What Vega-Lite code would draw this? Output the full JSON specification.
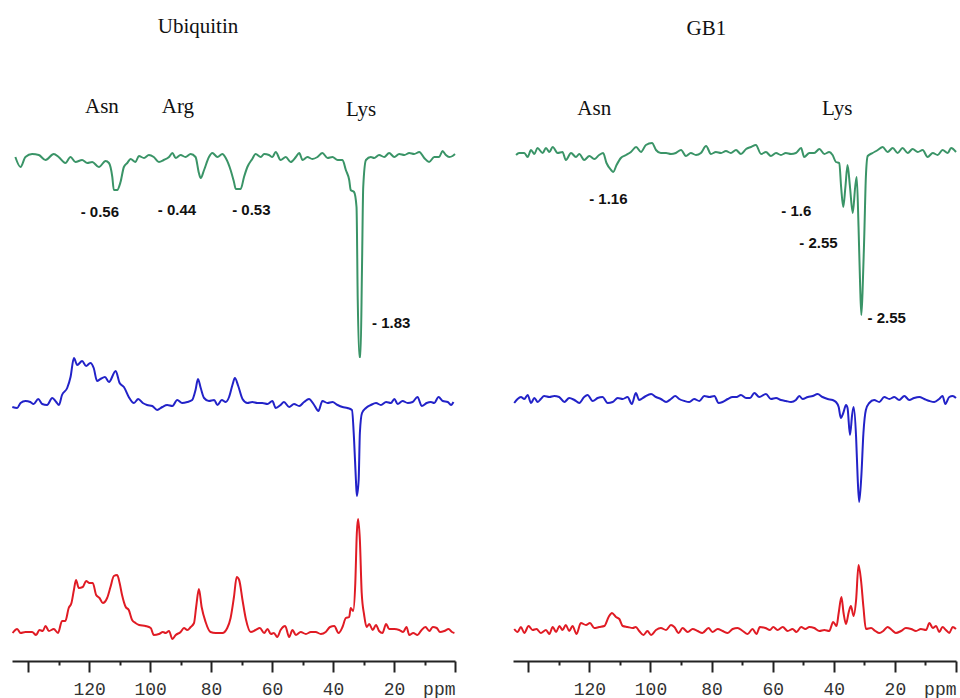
{
"$schema": "https://vega.github.io/schema/vega-lite/v6.json",
"background": "white",
"padding": {"left": 8, "top": 0, "right": 0, "bottom": 0},
"bounds": "flush",
"spacing": 58,
"config": {
 "view": {"stroke": null},
 "axis": {
  "values": [140,130,120,110,100,90,80,70,60,50,40,30,20,10,0],
  "labelExpr": "datum.value == 0 ? 'ppm' : (datum.value % 20 == 0 && datum.value < 140 ? datum.label : '')",
  "labelAlign": {"condition": {"test": "datum.value == 0", "value": "right"}, "value": "center"},
  "tickSize": {"condition": {"test": "datum.value % 20 == 0", "value": 11}, "value": 4},
  "title": null, "grid": false,
  "domainColor": "#222", "domainWidth": 2, "tickColor": "#222", "tickWidth": 2,
  "labelFont": "Liberation Mono", "labelFontSize": 18, "labelColor": "#333",
  "labelPadding": 8, "labelBound": false, "labelOverlap": false, "labelFlush": false
 }
},
"datasets": {
 "ubq": [
  {"s":"upper","x":144.2,"y":50.4},{"s":"upper","x":142.5,"y":49.4},{"s":"upper","x":140.9,"y":50.4},{"s":"upper","x":138.7,"y":50.7},{"s":"upper","x":136.5,"y":50.6},{"s":"upper","x":134.3,"y":50.1},{"s":"upper","x":131.6,"y":50.7},{"s":"upper","x":130.0,"y":50.4},{"s":"upper","x":127.8,"y":49.8},{"s":"upper","x":126.1,"y":50.4},{"s":"upper","x":124.5,"y":49.9},{"s":"upper","x":122.3,"y":50.1},{"s":"upper","x":120.6,"y":49.8},{"s":"upper","x":119.0,"y":49.9},{"s":"upper","x":116.8,"y":49.4},{"s":"upper","x":114.6,"y":50.0},{"s":"upper","x":113.5,"y":49.8},{"s":"upper","x":112.4,"y":48.4},{"s":"upper","x":111.9,"y":47.1},{"s":"upper","x":110.8,"y":47.1},{"s":"upper","x":109.7,"y":47.9},{"s":"upper","x":108.6,"y":49.4},{"s":"upper","x":107.5,"y":49.8},{"s":"upper","x":106.4,"y":50.2},{"s":"upper","x":104.8,"y":49.9},{"s":"upper","x":103.7,"y":50.5},{"s":"upper","x":102.0,"y":50.3},{"s":"upper","x":100.4,"y":50.6},{"s":"upper","x":98.8,"y":50.4},{"s":"upper","x":97.1,"y":49.9},{"s":"upper","x":95.5,"y":50.1},{"s":"upper","x":93.8,"y":50.4},{"s":"upper","x":92.7,"y":50.8},{"s":"upper","x":91.6,"y":50.3},{"s":"upper","x":90.0,"y":50.6},{"s":"upper","x":88.4,"y":50.4},{"s":"upper","x":86.7,"y":50.7},{"s":"upper","x":85.1,"y":50.4},{"s":"upper","x":84.0,"y":48.8},{"s":"upper","x":83.4,"y":48.3},{"s":"upper","x":82.3,"y":49.1},{"s":"upper","x":80.7,"y":50.4},{"s":"upper","x":79.6,"y":50.8},{"s":"upper","x":77.9,"y":50.4},{"s":"upper","x":76.3,"y":50.7},{"s":"upper","x":75.2,"y":50.3},{"s":"upper","x":73.6,"y":49.1},{"s":"upper","x":72.5,"y":47.9},{"s":"upper","x":71.9,"y":47.2},{"s":"upper","x":70.3,"y":47.2},{"s":"upper","x":69.2,"y":48.4},{"s":"upper","x":68.1,"y":49.4},{"s":"upper","x":66.5,"y":50.2},{"s":"upper","x":65.4,"y":50.7},{"s":"upper","x":63.7,"y":50.4},{"s":"upper","x":62.6,"y":50.7},{"s":"upper","x":61.0,"y":50.6},{"s":"upper","x":59.9,"y":50.4},{"s":"upper","x":58.8,"y":50.9},{"s":"upper","x":57.2,"y":50.1},{"s":"upper","x":55.5,"y":50.4},{"s":"upper","x":53.9,"y":49.9},{"s":"upper","x":52.2,"y":50.4},{"s":"upper","x":51.1,"y":50.8},{"s":"upper","x":50.0,"y":50.1},{"s":"upper","x":48.4,"y":50.4},{"s":"upper","x":46.8,"y":50.2},{"s":"upper","x":45.1,"y":50.4},{"s":"upper","x":43.5,"y":50.8},{"s":"upper","x":41.8,"y":50.3},{"s":"upper","x":40.2,"y":50.4},{"s":"upper","x":38.5,"y":50.1},{"s":"upper","x":36.9,"y":50.1},{"s":"upper","x":35.8,"y":49.1},{"s":"upper","x":34.7,"y":48.1},{"s":"upper","x":34.2,"y":47.1},{"s":"upper","x":33.1,"y":46.9},{"s":"upper","x":32.3,"y":45.4},{"s":"upper","x":31.9,"y":36.1},{"s":"upper","x":31.4,"y":30.4},{"s":"upper","x":31.0,"y":30.4},{"s":"upper","x":30.5,"y":39.4},{"s":"upper","x":30.1,"y":47.4},{"s":"upper","x":29.2,"y":50.1},{"s":"upper","x":27.6,"y":50.4},{"s":"upper","x":26.5,"y":50.3},{"s":"upper","x":24.9,"y":50.6},{"s":"upper","x":23.2,"y":50.4},{"s":"upper","x":21.6,"y":50.8},{"s":"upper","x":19.9,"y":50.4},{"s":"upper","x":18.3,"y":50.7},{"s":"upper","x":16.6,"y":50.6},{"s":"upper","x":15.0,"y":50.8},{"s":"upper","x":13.4,"y":50.7},{"s":"upper","x":11.7,"y":50.9},{"s":"upper","x":10.1,"y":50.3},{"s":"upper","x":8.5,"y":49.9},{"s":"upper","x":6.8,"y":50.4},{"s":"upper","x":5.2,"y":50.4},{"s":"upper","x":4.1,"y":51.0},{"s":"upper","x":3.0,"y":50.6},{"s":"upper","x":1.9,"y":50.4},{"s":"upper","x":0.8,"y":50.5},{"s":"upper","x":0.0,"y":50.7},
  {"s":"middle","x":145.2,"y":25.4},{"s":"middle","x":143.6,"y":25.3},{"s":"middle","x":142.5,"y":25.8},{"s":"middle","x":140.9,"y":26.0},{"s":"middle","x":139.3,"y":25.9},{"s":"middle","x":138.2,"y":25.7},{"s":"middle","x":136.7,"y":26.2},{"s":"middle","x":135.4,"y":25.7},{"s":"middle","x":133.8,"y":25.6},{"s":"middle","x":132.1,"y":26.3},{"s":"middle","x":130.8,"y":25.9},{"s":"middle","x":129.9,"y":25.6},{"s":"middle","x":128.9,"y":26.6},{"s":"middle","x":127.2,"y":27.3},{"s":"middle","x":126.1,"y":28.4},{"s":"middle","x":125.0,"y":30.3},{"s":"middle","x":123.9,"y":29.6},{"s":"middle","x":122.3,"y":30.0},{"s":"middle","x":121.0,"y":29.5},{"s":"middle","x":119.6,"y":29.8},{"s":"middle","x":118.5,"y":29.3},{"s":"middle","x":117.4,"y":28.0},{"s":"middle","x":116.3,"y":28.2},{"s":"middle","x":114.8,"y":28.4},{"s":"middle","x":113.5,"y":27.9},{"s":"middle","x":111.3,"y":29.0},{"s":"middle","x":110.0,"y":27.8},{"s":"middle","x":108.6,"y":27.4},{"s":"middle","x":107.0,"y":26.4},{"s":"middle","x":105.3,"y":25.8},{"s":"middle","x":103.9,"y":26.2},{"s":"middle","x":102.4,"y":25.8},{"s":"middle","x":101.0,"y":25.6},{"s":"middle","x":99.3,"y":25.5},{"s":"middle","x":97.7,"y":25.1},{"s":"middle","x":96.0,"y":25.4},{"s":"middle","x":94.4,"y":25.6},{"s":"middle","x":92.7,"y":25.5},{"s":"middle","x":91.1,"y":26.1},{"s":"middle","x":89.5,"y":25.8},{"s":"middle","x":87.8,"y":25.9},{"s":"middle","x":86.2,"y":26.1},{"s":"middle","x":85.1,"y":27.1},{"s":"middle","x":84.3,"y":28.2},{"s":"middle","x":83.4,"y":27.3},{"s":"middle","x":82.3,"y":26.3},{"s":"middle","x":80.7,"y":26.0},{"s":"middle","x":79.0,"y":26.1},{"s":"middle","x":77.9,"y":25.6},{"s":"middle","x":76.5,"y":26.1},{"s":"middle","x":75.2,"y":25.9},{"s":"middle","x":74.1,"y":26.4},{"s":"middle","x":73.0,"y":27.6},{"s":"middle","x":72.2,"y":28.3},{"s":"middle","x":71.1,"y":27.5},{"s":"middle","x":69.7,"y":26.2},{"s":"middle","x":68.1,"y":25.8},{"s":"middle","x":66.5,"y":25.9},{"s":"middle","x":64.8,"y":25.8},{"s":"middle","x":63.2,"y":25.8},{"s":"middle","x":61.5,"y":25.7},{"s":"middle","x":59.9,"y":26.0},{"s":"middle","x":58.8,"y":25.3},{"s":"middle","x":57.2,"y":25.6},{"s":"middle","x":56.1,"y":25.9},{"s":"middle","x":54.4,"y":25.4},{"s":"middle","x":52.8,"y":25.7},{"s":"middle","x":51.1,"y":25.5},{"s":"middle","x":49.5,"y":25.9},{"s":"middle","x":47.9,"y":26.2},{"s":"middle","x":46.2,"y":25.6},{"s":"middle","x":44.8,"y":25.0},{"s":"middle","x":43.5,"y":26.0},{"s":"middle","x":41.8,"y":25.8},{"s":"middle","x":40.2,"y":25.9},{"s":"middle","x":38.5,"y":25.6},{"s":"middle","x":36.9,"y":25.4},{"s":"middle","x":35.3,"y":25.3},{"s":"middle","x":33.8,"y":25.1},{"s":"middle","x":33.1,"y":22.1},{"s":"middle","x":32.5,"y":18.1},{"s":"middle","x":32.2,"y":16.5},{"s":"middle","x":31.6,"y":18.1},{"s":"middle","x":31.2,"y":22.8},{"s":"middle","x":30.5,"y":24.8},{"s":"middle","x":29.2,"y":25.3},{"s":"middle","x":27.6,"y":25.6},{"s":"middle","x":25.9,"y":25.8},{"s":"middle","x":24.3,"y":25.6},{"s":"middle","x":22.6,"y":25.9},{"s":"middle","x":21.0,"y":25.8},{"s":"middle","x":19.9,"y":26.2},{"s":"middle","x":18.8,"y":25.7},{"s":"middle","x":17.2,"y":26.0},{"s":"middle","x":15.5,"y":25.8},{"s":"middle","x":13.9,"y":25.9},{"s":"middle","x":12.3,"y":26.4},{"s":"middle","x":10.9,"y":25.5},{"s":"middle","x":9.3,"y":25.8},{"s":"middle","x":7.9,"y":25.9},{"s":"middle","x":6.8,"y":25.8},{"s":"middle","x":5.4,"y":26.4},{"s":"middle","x":4.0,"y":26.0},{"s":"middle","x":2.4,"y":25.9},{"s":"middle","x":1.3,"y":25.6},{"s":"middle","x":0.5,"y":25.9},
  {"s":"lower","x":145.1,"y":2.8},{"s":"lower","x":143.6,"y":3.2},{"s":"lower","x":142.5,"y":2.8},{"s":"lower","x":140.9,"y":2.9},{"s":"lower","x":138.7,"y":2.9},{"s":"lower","x":137.4,"y":2.6},{"s":"lower","x":136.3,"y":3.1},{"s":"lower","x":135.2,"y":3.0},{"s":"lower","x":134.3,"y":3.5},{"s":"lower","x":133.2,"y":3.0},{"s":"lower","x":131.6,"y":3.2},{"s":"lower","x":130.2,"y":2.8},{"s":"lower","x":128.9,"y":4.0},{"s":"lower","x":127.8,"y":4.0},{"s":"lower","x":126.7,"y":5.3},{"s":"lower","x":125.8,"y":5.8},{"s":"lower","x":125.0,"y":7.1},{"s":"lower","x":124.3,"y":8.1},{"s":"lower","x":123.4,"y":7.3},{"s":"lower","x":122.1,"y":7.4},{"s":"lower","x":121.0,"y":8.0},{"s":"lower","x":119.9,"y":7.8},{"s":"lower","x":118.8,"y":7.8},{"s":"lower","x":117.7,"y":6.6},{"s":"lower","x":116.6,"y":6.3},{"s":"lower","x":115.5,"y":5.8},{"s":"lower","x":114.1,"y":6.3},{"s":"lower","x":113.0,"y":7.4},{"s":"lower","x":111.9,"y":8.5},{"s":"lower","x":110.8,"y":8.6},{"s":"lower","x":110.0,"y":7.8},{"s":"lower","x":109.2,"y":6.6},{"s":"lower","x":108.0,"y":5.4},{"s":"lower","x":107.0,"y":5.1},{"s":"lower","x":105.9,"y":4.1},{"s":"lower","x":104.8,"y":3.8},{"s":"lower","x":103.6,"y":3.6},{"s":"lower","x":101.5,"y":3.5},{"s":"lower","x":99.8,"y":3.3},{"s":"lower","x":98.8,"y":2.6},{"s":"lower","x":97.1,"y":2.7},{"s":"lower","x":95.8,"y":2.9},{"s":"lower","x":94.9,"y":2.8},{"s":"lower","x":93.8,"y":3.0},{"s":"lower","x":92.7,"y":2.2},{"s":"lower","x":91.6,"y":2.6},{"s":"lower","x":90.0,"y":2.9},{"s":"lower","x":88.9,"y":3.3},{"s":"lower","x":87.8,"y":3.1},{"s":"lower","x":86.7,"y":3.4},{"s":"lower","x":85.6,"y":3.8},{"s":"lower","x":84.9,"y":5.4},{"s":"lower","x":84.0,"y":7.2},{"s":"lower","x":83.1,"y":5.4},{"s":"lower","x":81.8,"y":3.9},{"s":"lower","x":80.2,"y":2.9},{"s":"lower","x":78.5,"y":2.8},{"s":"lower","x":76.3,"y":2.8},{"s":"lower","x":74.7,"y":3.3},{"s":"lower","x":73.6,"y":4.3},{"s":"lower","x":72.5,"y":6.4},{"s":"lower","x":71.6,"y":8.4},{"s":"lower","x":70.8,"y":8.1},{"s":"lower","x":69.7,"y":6.1},{"s":"lower","x":68.6,"y":4.2},{"s":"lower","x":67.0,"y":2.9},{"s":"lower","x":65.4,"y":3.1},{"s":"lower","x":64.0,"y":3.3},{"s":"lower","x":62.6,"y":2.8},{"s":"lower","x":61.5,"y":3.2},{"s":"lower","x":60.4,"y":2.7},{"s":"lower","x":59.4,"y":2.8},{"s":"lower","x":58.3,"y":2.4},{"s":"lower","x":57.2,"y":3.1},{"s":"lower","x":55.7,"y":3.5},{"s":"lower","x":54.4,"y":2.4},{"s":"lower","x":53.3,"y":3.1},{"s":"lower","x":52.2,"y":2.6},{"s":"lower","x":50.6,"y":2.9},{"s":"lower","x":48.9,"y":2.7},{"s":"lower","x":47.3,"y":2.9},{"s":"lower","x":45.7,"y":2.9},{"s":"lower","x":44.0,"y":2.7},{"s":"lower","x":42.4,"y":2.9},{"s":"lower","x":41.0,"y":3.4},{"s":"lower","x":39.6,"y":3.5},{"s":"lower","x":38.2,"y":2.8},{"s":"lower","x":36.9,"y":3.4},{"s":"lower","x":35.8,"y":4.3},{"s":"lower","x":34.7,"y":4.4},{"s":"lower","x":34.2,"y":5.3},{"s":"lower","x":33.4,"y":5.0},{"s":"lower","x":32.7,"y":7.8},{"s":"lower","x":32.2,"y":12.8},{"s":"lower","x":31.8,"y":14.2},{"s":"lower","x":31.2,"y":12.1},{"s":"lower","x":30.6,"y":6.8},{"s":"lower","x":29.8,"y":4.6},{"s":"lower","x":29.0,"y":3.4},{"s":"lower","x":28.1,"y":3.7},{"s":"lower","x":27.0,"y":3.1},{"s":"lower","x":25.9,"y":3.6},{"s":"lower","x":24.9,"y":3.0},{"s":"lower","x":23.8,"y":2.8},{"s":"lower","x":22.6,"y":3.7},{"s":"lower","x":21.6,"y":3.2},{"s":"lower","x":19.9,"y":3.2},{"s":"lower","x":18.3,"y":3.1},{"s":"lower","x":17.0,"y":2.9},{"s":"lower","x":15.9,"y":3.4},{"s":"lower","x":15.0,"y":2.6},{"s":"lower","x":13.7,"y":2.8},{"s":"lower","x":12.3,"y":2.6},{"s":"lower","x":11.2,"y":3.0},{"s":"lower","x":9.7,"y":3.4},{"s":"lower","x":8.4,"y":3.0},{"s":"lower","x":7.3,"y":3.4},{"s":"lower","x":6.0,"y":3.3},{"s":"lower","x":4.9,"y":2.9},{"s":"lower","x":3.5,"y":3.0},{"s":"lower","x":2.1,"y":3.2},{"s":"lower","x":1.0,"y":2.9},{"s":"lower","x":0.2,"y":2.8}
 ],
 "gb1": [
  {"s":"upper","x":144.0,"y":50.6},{"s":"upper","x":143.0,"y":50.8},{"s":"upper","x":141.3,"y":50.8},{"s":"upper","x":140.2,"y":50.4},{"s":"upper","x":139.1,"y":51.1},{"s":"upper","x":138.0,"y":50.7},{"s":"upper","x":137.0,"y":51.3},{"s":"upper","x":135.3,"y":50.8},{"s":"upper","x":134.2,"y":51.3},{"s":"upper","x":133.1,"y":50.9},{"s":"upper","x":132.0,"y":51.4},{"s":"upper","x":130.4,"y":50.8},{"s":"upper","x":128.8,"y":50.9},{"s":"upper","x":127.7,"y":50.1},{"s":"upper","x":126.0,"y":50.8},{"s":"upper","x":124.4,"y":50.4},{"s":"upper","x":123.3,"y":50.7},{"s":"upper","x":121.7,"y":50.1},{"s":"upper","x":120.0,"y":50.5},{"s":"upper","x":118.4,"y":50.2},{"s":"upper","x":116.8,"y":50.6},{"s":"upper","x":115.5,"y":50.8},{"s":"upper","x":114.4,"y":49.8},{"s":"upper","x":112.9,"y":49.1},{"s":"upper","x":112.2,"y":48.9},{"s":"upper","x":111.1,"y":49.6},{"s":"upper","x":109.7,"y":50.3},{"s":"upper","x":108.0,"y":50.6},{"s":"upper","x":106.4,"y":50.9},{"s":"upper","x":104.7,"y":51.4},{"s":"upper","x":103.1,"y":50.9},{"s":"upper","x":101.5,"y":51.6},{"s":"upper","x":99.5,"y":51.8},{"s":"upper","x":98.2,"y":51.1},{"s":"upper","x":96.6,"y":50.8},{"s":"upper","x":94.9,"y":50.8},{"s":"upper","x":93.3,"y":50.7},{"s":"upper","x":91.7,"y":50.8},{"s":"upper","x":90.0,"y":51.1},{"s":"upper","x":88.4,"y":50.5},{"s":"upper","x":86.8,"y":50.8},{"s":"upper","x":85.1,"y":50.6},{"s":"upper","x":83.5,"y":50.8},{"s":"upper","x":81.8,"y":51.5},{"s":"upper","x":80.2,"y":50.7},{"s":"upper","x":78.6,"y":50.9},{"s":"upper","x":76.9,"y":50.8},{"s":"upper","x":75.3,"y":51.0},{"s":"upper","x":73.7,"y":50.8},{"s":"upper","x":72.0,"y":51.1},{"s":"upper","x":70.4,"y":50.7},{"s":"upper","x":68.7,"y":51.2},{"s":"upper","x":67.1,"y":51.4},{"s":"upper","x":65.5,"y":51.6},{"s":"upper","x":63.8,"y":50.7},{"s":"upper","x":62.2,"y":50.9},{"s":"upper","x":60.6,"y":50.5},{"s":"upper","x":58.9,"y":50.8},{"s":"upper","x":57.3,"y":50.6},{"s":"upper","x":55.7,"y":50.8},{"s":"upper","x":54.0,"y":50.7},{"s":"upper","x":52.4,"y":50.8},{"s":"upper","x":50.7,"y":51.3},{"s":"upper","x":49.7,"y":50.4},{"s":"upper","x":48.0,"y":50.8},{"s":"upper","x":46.4,"y":50.8},{"s":"upper","x":44.7,"y":51.2},{"s":"upper","x":43.1,"y":50.7},{"s":"upper","x":41.5,"y":50.9},{"s":"upper","x":40.4,"y":50.6},{"s":"upper","x":39.3,"y":49.9},{"s":"upper","x":38.2,"y":49.8},{"s":"upper","x":37.6,"y":47.4},{"s":"upper","x":36.9,"y":45.4},{"s":"upper","x":36.2,"y":47.4},{"s":"upper","x":35.5,"y":49.6},{"s":"upper","x":34.7,"y":47.4},{"s":"upper","x":33.8,"y":44.8},{"s":"upper","x":33.0,"y":47.4},{"s":"upper","x":32.5,"y":48.4},{"s":"upper","x":31.9,"y":43.4},{"s":"upper","x":31.4,"y":37.8},{"s":"upper","x":31.0,"y":34.6},{"s":"upper","x":30.6,"y":36.8},{"s":"upper","x":30.0,"y":42.8},{"s":"upper","x":29.5,"y":48.4},{"s":"upper","x":28.9,"y":50.5},{"s":"upper","x":27.3,"y":50.8},{"s":"upper","x":25.6,"y":51.1},{"s":"upper","x":24.0,"y":51.4},{"s":"upper","x":22.4,"y":50.9},{"s":"upper","x":20.7,"y":51.3},{"s":"upper","x":19.1,"y":50.8},{"s":"upper","x":17.5,"y":51.3},{"s":"upper","x":15.8,"y":50.8},{"s":"upper","x":14.2,"y":51.2},{"s":"upper","x":12.5,"y":50.9},{"s":"upper","x":10.9,"y":51.1},{"s":"upper","x":9.3,"y":50.4},{"s":"upper","x":7.6,"y":50.8},{"s":"upper","x":6.0,"y":50.6},{"s":"upper","x":4.4,"y":51.1},{"s":"upper","x":2.7,"y":50.8},{"s":"upper","x":1.6,"y":51.3},{"s":"upper","x":0.0,"y":50.9},
  {"s":"middle","x":144.6,"y":25.8},{"s":"middle","x":143.5,"y":26.2},{"s":"middle","x":142.4,"y":26.4},{"s":"middle","x":141.3,"y":26.2},{"s":"middle","x":140.2,"y":26.6},{"s":"middle","x":139.1,"y":25.8},{"s":"middle","x":138.0,"y":26.3},{"s":"middle","x":136.9,"y":25.9},{"s":"middle","x":135.9,"y":26.2},{"s":"middle","x":134.8,"y":26.5},{"s":"middle","x":133.1,"y":26.4},{"s":"middle","x":131.5,"y":26.5},{"s":"middle","x":129.9,"y":26.4},{"s":"middle","x":128.2,"y":25.9},{"s":"middle","x":126.6,"y":26.3},{"s":"middle","x":124.9,"y":26.1},{"s":"middle","x":123.3,"y":25.8},{"s":"middle","x":121.7,"y":26.4},{"s":"middle","x":120.6,"y":26.6},{"s":"middle","x":118.9,"y":26.0},{"s":"middle","x":117.3,"y":26.3},{"s":"middle","x":115.7,"y":26.4},{"s":"middle","x":114.0,"y":25.8},{"s":"middle","x":112.4,"y":25.9},{"s":"middle","x":110.7,"y":26.3},{"s":"middle","x":109.1,"y":26.2},{"s":"middle","x":107.5,"y":26.4},{"s":"middle","x":106.1,"y":25.7},{"s":"middle","x":104.8,"y":26.8},{"s":"middle","x":103.7,"y":26.1},{"s":"middle","x":102.0,"y":26.4},{"s":"middle","x":99.8,"y":26.7},{"s":"middle","x":98.2,"y":26.4},{"s":"middle","x":96.6,"y":26.2},{"s":"middle","x":94.9,"y":25.9},{"s":"middle","x":93.3,"y":26.2},{"s":"middle","x":91.9,"y":26.5},{"s":"middle","x":90.6,"y":26.2},{"s":"middle","x":88.9,"y":26.0},{"s":"middle","x":87.3,"y":25.9},{"s":"middle","x":85.7,"y":26.2},{"s":"middle","x":84.0,"y":26.0},{"s":"middle","x":82.4,"y":26.5},{"s":"middle","x":80.7,"y":26.4},{"s":"middle","x":79.1,"y":26.5},{"s":"middle","x":77.7,"y":25.8},{"s":"middle","x":76.4,"y":25.9},{"s":"middle","x":74.7,"y":26.2},{"s":"middle","x":73.1,"y":26.4},{"s":"middle","x":71.8,"y":26.4},{"s":"middle","x":70.4,"y":26.6},{"s":"middle","x":68.7,"y":26.3},{"s":"middle","x":67.4,"y":26.3},{"s":"middle","x":66.0,"y":26.8},{"s":"middle","x":64.4,"y":26.4},{"s":"middle","x":62.2,"y":26.7},{"s":"middle","x":60.6,"y":26.2},{"s":"middle","x":58.9,"y":26.3},{"s":"middle","x":57.3,"y":26.1},{"s":"middle","x":55.7,"y":26.0},{"s":"middle","x":54.0,"y":25.9},{"s":"middle","x":52.4,"y":26.1},{"s":"middle","x":51.3,"y":26.5},{"s":"middle","x":50.2,"y":26.2},{"s":"middle","x":48.5,"y":26.4},{"s":"middle","x":46.9,"y":26.5},{"s":"middle","x":45.3,"y":26.7},{"s":"middle","x":43.7,"y":26.4},{"s":"middle","x":42.0,"y":26.2},{"s":"middle","x":40.4,"y":26.1},{"s":"middle","x":39.3,"y":25.9},{"s":"middle","x":38.4,"y":25.4},{"s":"middle","x":37.7,"y":24.3},{"s":"middle","x":36.9,"y":24.8},{"s":"middle","x":36.0,"y":25.6},{"s":"middle","x":35.5,"y":25.3},{"s":"middle","x":34.7,"y":22.6},{"s":"middle","x":34.0,"y":24.6},{"s":"middle","x":33.5,"y":25.4},{"s":"middle","x":32.7,"y":22.4},{"s":"middle","x":32.2,"y":18.4},{"s":"middle","x":31.7,"y":15.9},{"s":"middle","x":31.0,"y":18.4},{"s":"middle","x":30.3,"y":22.8},{"s":"middle","x":29.5,"y":25.1},{"s":"middle","x":28.4,"y":25.8},{"s":"middle","x":26.8,"y":26.1},{"s":"middle","x":25.1,"y":25.9},{"s":"middle","x":23.5,"y":26.4},{"s":"middle","x":21.8,"y":26.2},{"s":"middle","x":20.2,"y":26.4},{"s":"middle","x":18.6,"y":26.1},{"s":"middle","x":16.9,"y":26.5},{"s":"middle","x":15.3,"y":26.1},{"s":"middle","x":13.7,"y":26.3},{"s":"middle","x":12.0,"y":26.4},{"s":"middle","x":10.4,"y":26.2},{"s":"middle","x":8.7,"y":26.0},{"s":"middle","x":7.1,"y":25.9},{"s":"middle","x":5.5,"y":26.2},{"s":"middle","x":4.4,"y":26.5},{"s":"middle","x":3.5,"y":25.7},{"s":"middle","x":2.2,"y":26.4},{"s":"middle","x":1.1,"y":26.5},{"s":"middle","x":0.0,"y":26.3},
  {"s":"lower","x":144.6,"y":3.2},{"s":"lower","x":143.5,"y":2.9},{"s":"lower","x":142.4,"y":3.4},{"s":"lower","x":141.3,"y":2.8},{"s":"lower","x":139.9,"y":3.5},{"s":"lower","x":138.6,"y":3.1},{"s":"lower","x":137.3,"y":3.2},{"s":"lower","x":135.9,"y":2.8},{"s":"lower","x":134.2,"y":3.1},{"s":"lower","x":133.1,"y":2.7},{"s":"lower","x":132.0,"y":3.4},{"s":"lower","x":130.9,"y":2.9},{"s":"lower","x":129.8,"y":3.5},{"s":"lower","x":128.8,"y":3.1},{"s":"lower","x":127.7,"y":3.6},{"s":"lower","x":126.6,"y":3.0},{"s":"lower","x":125.5,"y":3.5},{"s":"lower","x":124.2,"y":2.7},{"s":"lower","x":122.8,"y":3.8},{"s":"lower","x":121.1,"y":3.6},{"s":"lower","x":119.8,"y":3.8},{"s":"lower","x":118.4,"y":3.3},{"s":"lower","x":116.8,"y":3.4},{"s":"lower","x":115.1,"y":3.5},{"s":"lower","x":113.7,"y":4.4},{"s":"lower","x":112.6,"y":4.8},{"s":"lower","x":111.3,"y":4.4},{"s":"lower","x":110.2,"y":4.2},{"s":"lower","x":109.1,"y":3.5},{"s":"lower","x":107.5,"y":3.4},{"s":"lower","x":105.8,"y":3.3},{"s":"lower","x":104.8,"y":3.4},{"s":"lower","x":103.7,"y":3.0},{"s":"lower","x":102.3,"y":2.6},{"s":"lower","x":101.0,"y":3.0},{"s":"lower","x":99.8,"y":2.6},{"s":"lower","x":98.2,"y":3.1},{"s":"lower","x":96.6,"y":3.3},{"s":"lower","x":94.9,"y":3.1},{"s":"lower","x":93.3,"y":3.6},{"s":"lower","x":92.2,"y":3.4},{"s":"lower","x":90.8,"y":2.8},{"s":"lower","x":89.5,"y":3.3},{"s":"lower","x":87.8,"y":2.9},{"s":"lower","x":86.2,"y":3.2},{"s":"lower","x":84.6,"y":3.0},{"s":"lower","x":83.0,"y":2.8},{"s":"lower","x":81.0,"y":3.3},{"s":"lower","x":79.7,"y":2.9},{"s":"lower","x":78.0,"y":3.2},{"s":"lower","x":76.4,"y":3.0},{"s":"lower","x":74.7,"y":2.8},{"s":"lower","x":73.1,"y":3.2},{"s":"lower","x":71.5,"y":3.3},{"s":"lower","x":69.8,"y":3.0},{"s":"lower","x":68.2,"y":2.7},{"s":"lower","x":66.6,"y":3.2},{"s":"lower","x":65.3,"y":2.7},{"s":"lower","x":64.2,"y":3.4},{"s":"lower","x":62.4,"y":3.3},{"s":"lower","x":60.9,"y":3.1},{"s":"lower","x":59.8,"y":3.4},{"s":"lower","x":58.4,"y":3.1},{"s":"lower","x":56.7,"y":3.4},{"s":"lower","x":55.1,"y":3.0},{"s":"lower","x":53.5,"y":3.2},{"s":"lower","x":52.2,"y":2.9},{"s":"lower","x":50.7,"y":3.4},{"s":"lower","x":49.3,"y":3.2},{"s":"lower","x":48.0,"y":3.4},{"s":"lower","x":46.4,"y":3.3},{"s":"lower","x":44.7,"y":3.0},{"s":"lower","x":43.1,"y":3.1},{"s":"lower","x":41.5,"y":3.0},{"s":"lower","x":40.2,"y":3.9},{"s":"lower","x":39.1,"y":3.5},{"s":"lower","x":38.4,"y":4.8},{"s":"lower","x":37.5,"y":6.4},{"s":"lower","x":36.8,"y":4.8},{"s":"lower","x":36.0,"y":3.7},{"s":"lower","x":35.1,"y":4.9},{"s":"lower","x":34.4,"y":5.5},{"s":"lower","x":33.5,"y":4.5},{"s":"lower","x":32.7,"y":6.1},{"s":"lower","x":31.9,"y":9.6},{"s":"lower","x":31.1,"y":8.1},{"s":"lower","x":30.3,"y":5.4},{"s":"lower","x":29.5,"y":3.2},{"s":"lower","x":27.8,"y":3.3},{"s":"lower","x":26.4,"y":3.0},{"s":"lower","x":25.1,"y":2.8},{"s":"lower","x":23.8,"y":3.0},{"s":"lower","x":22.4,"y":3.4},{"s":"lower","x":21.0,"y":3.1},{"s":"lower","x":19.7,"y":2.8},{"s":"lower","x":18.0,"y":3.0},{"s":"lower","x":16.4,"y":3.3},{"s":"lower","x":14.7,"y":3.2},{"s":"lower","x":13.1,"y":3.0},{"s":"lower","x":11.5,"y":3.2},{"s":"lower","x":9.8,"y":3.1},{"s":"lower","x":8.7,"y":3.8},{"s":"lower","x":7.6,"y":3.3},{"s":"lower","x":6.5,"y":3.5},{"s":"lower","x":5.5,"y":2.9},{"s":"lower","x":4.4,"y":3.4},{"s":"lower","x":3.3,"y":3.1},{"s":"lower","x":2.2,"y":2.8},{"s":"lower","x":1.1,"y":3.4},{"s":"lower","x":0.0,"y":3.2}
 ],
 "ubqText": [
  {"t":"Ubiquitin","x":84.3,"y":62.8,"k":"serif"},
  {"t":"Asn","x":115.8,"y":54.8,"k":"serif"},
  {"t":"Arg","x":90.9,"y":54.8,"k":"serif"},
  {"t":"Lys","x":30.8,"y":54.5,"k":"serif"},
  {"t":"- 0.56","x":116.5,"y":44.9,"k":"num"},
  {"t":"- 0.44","x":91.2,"y":45.1,"k":"num"},
  {"t":"- 0.53","x":66.8,"y":45.1,"k":"num"},
  {"t":"- 1.83","x":20.9,"y":33.8,"k":"num"}
 ],
 "gb1Text": [
  {"t":"GB1","x":81.7,"y":62.6,"k":"serif"},
  {"t":"Asn","x":118.4,"y":54.6,"k":"serif"},
  {"t":"Lys","x":38.9,"y":54.6,"k":"serif"},
  {"t":"- 1.16","x":113.8,"y":46.2,"k":"num"},
  {"t":"- 1.6","x":52.3,"y":45.0,"k":"num"},
  {"t":"- 2.55","x":45.0,"y":41.8,"k":"num"},
  {"t":"- 2.55","x":22.7,"y":34.3,"k":"num"}
 ]
},
"hconcat": [
 {
  "width": 443, "height": 661,
  "layer": [
   {
    "data": {"name": "ubq"},
    "mark": {"type": "line", "strokeWidth": 2, "interpolate": "monotone"},
    "encoding": {
     "x": {"field": "x", "type": "quantitative", "scale": {"domain": [0, 145.3], "reverse": true, "nice": false, "zero": false}},
     "y": {"field": "y", "type": "quantitative", "scale": {"domain": [0, 66.1], "nice": false, "zero": false}, "axis": null},
     "color": {"field": "s", "type": "nominal", "scale": {"domain": ["upper","middle","lower"], "range": ["#3a9467","#2222c8","#e01b24"]}, "legend": null}
    }
   },
   {
    "data": {"name": "ubqText"},
    "transform": [{"filter": "datum.k == 'serif'"}],
    "mark": {"type": "text", "font": "Liberation Serif", "fontSize": 21, "align": "center", "baseline": "alphabetic", "color": "#111"},
    "encoding": {"x": {"field": "x", "type": "quantitative"}, "y": {"field": "y", "type": "quantitative"}, "text": {"field": "t"}}
   },
   {
    "data": {"name": "ubqText"},
    "transform": [{"filter": "datum.k == 'num'"}],
    "mark": {"type": "text", "font": "Liberation Sans", "fontSize": 15, "fontWeight": "bold", "align": "center", "baseline": "middle", "color": "#111"},
    "encoding": {"x": {"field": "x", "type": "quantitative"}, "y": {"field": "y", "type": "quantitative"}, "text": {"field": "t"}}
   }
  ]
 },
 {
  "width": 443, "height": 661,
  "layer": [
   {
    "data": {"name": "gb1"},
    "mark": {"type": "line", "strokeWidth": 2, "interpolate": "monotone"},
    "encoding": {
     "x": {"field": "x", "type": "quantitative", "scale": {"domain": [0, 145.0], "reverse": true, "nice": false, "zero": false}},
     "y": {"field": "y", "type": "quantitative", "scale": {"domain": [0, 66.1], "nice": false, "zero": false}, "axis": null},
     "color": {"field": "s", "type": "nominal", "scale": {"domain": ["upper","middle","lower"], "range": ["#3a9467","#2222c8","#e01b24"]}, "legend": null}
    }
   },
   {
    "data": {"name": "gb1Text"},
    "transform": [{"filter": "datum.k == 'serif'"}],
    "mark": {"type": "text", "font": "Liberation Serif", "fontSize": 21, "align": "center", "baseline": "alphabetic", "color": "#111"},
    "encoding": {"x": {"field": "x", "type": "quantitative"}, "y": {"field": "y", "type": "quantitative"}, "text": {"field": "t"}}
   },
   {
    "data": {"name": "gb1Text"},
    "transform": [{"filter": "datum.k == 'num'"}],
    "mark": {"type": "text", "font": "Liberation Sans", "fontSize": 15, "fontWeight": "bold", "align": "center", "baseline": "middle", "color": "#111"},
    "encoding": {"x": {"field": "x", "type": "quantitative"}, "y": {"field": "y", "type": "quantitative"}, "text": {"field": "t"}}
   }
  ]
 }
]
}
